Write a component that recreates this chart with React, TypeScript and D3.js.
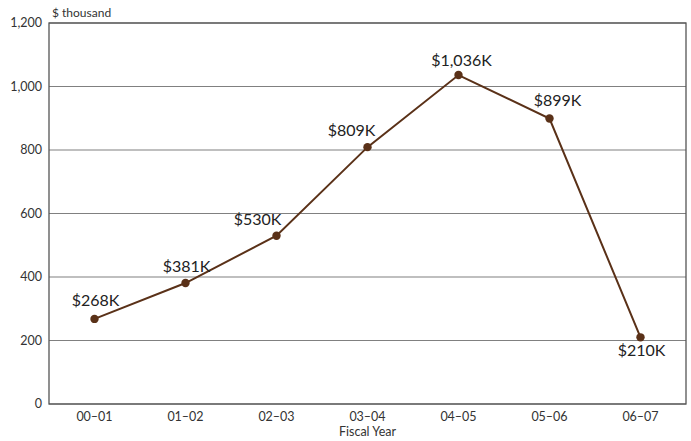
import React from "react";
import * as d3 from "d3";

const categories = ["00–01", "01–02", "02–03", "03–04", "04–05", "05–06", "06–07"];
const values = [268, 381, 530, 809, 1036, 899, 210];
const labels = ["$268K", "$381K", "$530K", "$809K", "$1,036K", "$899K", "$210K"];
const yTicks = [0, 200, 400, 600, 800, 1000, 1200];
// label placement offsets (dx, dy) relative to point
const labelDx = [1, 1, -19, -16, 3, 8, 1];
const labelDy = [-13, -11, -11, -11, -9, -13, 19];

const W = 691, H = 441;
const M = { left: 49, right: 5, top: 23, bottom: 37 };
const FONT = "Lato, 'Open Sans', sans-serif";

export default function App() {
  const x = d3.scalePoint<string>().domain(categories).range([M.left, W - M.right]).padding(0.5);
  const y = d3.scaleLinear().domain([0, 1200]).range([H - M.bottom, M.top]);
  const line = d3.line<number>().x((_, i) => x(categories[i])!).y(d => y(d));
  const fmt = d3.format(",");
  return (
    <svg width={W} height={H} style={{ position: "absolute", left: 0, top: 0, background: "#fff" }}>
      {yTicks.map(t => (
        <g key={t}>
          <line x1={M.left} x2={W - M.right} y1={y(t)} y2={y(t)} stroke="#808080" strokeWidth={1.2} />
          <text x={M.left - 7} y={y(t)} dy="0.35em" textAnchor="end" fontFamily={FONT} fontSize={12.5} fill="#333">{fmt(t)}</text>
        </g>
      ))}
      <rect x={M.left} y={M.top} width={W - M.left - M.right} height={H - M.top - M.bottom} fill="none" stroke="#555" strokeWidth={1.3} />
      <text x={M.left + 3} y={M.top - 6} fontFamily={FONT} fontSize={12} fill="#333">$ thousand</text>
      {categories.map(c => (
        <text key={c} x={x(c)} y={H - M.bottom + 17} textAnchor="middle" fontFamily={FONT} fontSize={12.5} fill="#333">{c}</text>
      ))}
      <text x={(M.left + W - M.right) / 2} y={H - 5} textAnchor="middle" fontFamily={FONT} fontSize={12.5} fill="#333">Fiscal Year</text>
      <path d={line(values) || ""} fill="none" stroke="#5a3118" strokeWidth={2} />
      {values.map((v, i) => (
        <circle key={i} cx={x(categories[i])} cy={y(v)} r={4.2} fill="#5a3118" />
      ))}
      {values.map((v, i) => (
        <text key={"l" + i} x={x(categories[i])! + labelDx[i]} y={y(v) + labelDy[i]} textAnchor="middle" fontFamily={FONT} fontSize={16} fill="#222">{labels[i]}</text>
      ))}
    </svg>
  );
}
